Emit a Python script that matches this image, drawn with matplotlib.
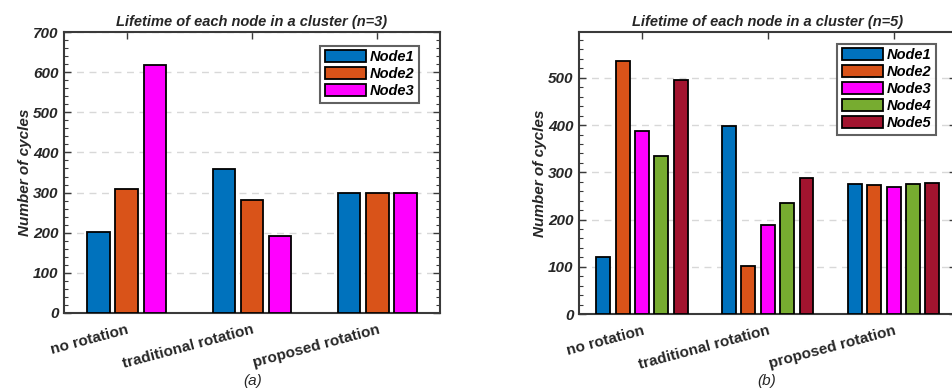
import matplotlib
matplotlib.use("Agg")
import matplotlib.pyplot as plt
import numpy as np
from matplotlib.ticker import MultipleLocator

plt.rcParams['font.family'] = ['Liberation Sans', 'DejaVu Sans']

categories = ["no rotation", "traditional rotation", "proposed rotation"]

nodes3 = ["Node1", "Node2", "Node3"]
n3_node1 = [202, 359, 298]
n3_node2 = [308, 282, 298]
n3_node3 = [618, 193, 298]

nodes5 = ["Node1", "Node2", "Node3", "Node4", "Node5"]
n5_node1 = [120, 398, 275]
n5_node2 = [536, 102, 274]
n5_node3 = [388, 189, 268]
n5_node4 = [335, 236, 275]
n5_node5 = [495, 287, 277]

colors = ["#0072BD", "#D95319", "#FF00FF", "#77AC30", "#A2142F"]
txt = "#262626"
axc = "#3a3a3a"

W, H = 953, 390
fig = plt.figure(figsize=(W / 100, H / 100), dpi=100)

def box(l, t, r, b):
    return [l / W, 1 - b / H, (r - l) / W, (b - t) / H]

def draw(ax, series, names, step, width, ylim, yticks, title, leg_anchor):
    x = np.arange(1, len(categories) + 1)
    n = len(series)
    for i, (vals, name) in enumerate(zip(series, names)):
        off = (i - (n - 1) / 2) * step
        ax.bar(x + off, vals, width, color=colors[i], edgecolor="black",
               linewidth=1.3, label=name, zorder=3)
    ax.set_xlim(0.5, 3.5)
    ax.set_ylim(*ylim)
    ax.set_yticks(yticks)
    ax.yaxis.set_minor_locator(MultipleLocator(20))
    ax.set_xticks(x)
    ax.set_xticklabels(categories, rotation=15, ha="right", fontsize=11,
                       fontweight="bold", color=txt, rotation_mode="anchor")
    for lab in ax.get_yticklabels():
        lab.set_fontweight("bold")
        lab.set_fontstyle("italic")
        lab.set_fontsize(11)
        lab.set_color(txt)
    ax.tick_params(axis="both", which="both", direction="in", top=True,
                   right=True, color=axc)
    ax.tick_params(axis="y", which="major", length=5, width=1, pad=4)
    ax.tick_params(axis="y", which="minor", length=3, width=0.8)
    ax.tick_params(axis="x", which="major", length=5, width=1, pad=7)
    ax.tick_params(axis="x", which="minor", top=False, bottom=False)
    for s in ax.spines.values():
        s.set_color(axc)
        s.set_linewidth(1.5)
    ax.yaxis.grid(True, linestyle=(0, (5, 4)), color="#d8d8d8", linewidth=1, zorder=0)
    ax.set_axisbelow(True)
    ax.set_title(title, fontsize=10.5, fontweight="bold", fontstyle="italic",
                 color=txt, pad=4)
    ax.set_ylabel("Number of cycles", fontsize=11, fontweight="bold",
                  fontstyle="italic", color=txt, labelpad=1)
    leg = ax.legend(loc="upper right", bbox_to_anchor=leg_anchor,
                    prop={"weight": "bold", "style": "italic", "size": 10.5},
                    frameon=True, fancybox=False, edgecolor=axc,
                    handlelength=2.8, handleheight=0.9, handletextpad=0.3,
                    labelspacing=0.2, borderpad=0.3, borderaxespad=0.0)
    leg.get_frame().set_linewidth(1.5)
    for t in leg.get_texts():
        t.set_color("black")
    return ax

ax1 = fig.add_axes(box(64, 32, 440, 313))
draw(ax1, [n3_node1, n3_node2, n3_node3], nodes3, 0.225, 0.18,
     (0, 700), np.arange(0, 701, 100),
     "Lifetime of each node in a cluster (n=3)",
     ((419 - 64) / 376, (313 - 46) / 281))

ax2 = fig.add_axes(box(579, 32, 956.5, 314))
draw(ax2, [n5_node1, n5_node2, n5_node3, n5_node4, n5_node5], nodes5, 0.154, 0.111,
     (0, 597), np.arange(0, 501, 100),
     "Lifetime of each node in a cluster (n=5)",
     ((936 - 579) / 377.5, (314 - 44) / 282))

fig.text(253 / W, 1 - 381 / H, "(a)", ha="center", va="center", fontsize=11,
         fontstyle="italic", color=txt)
fig.text(767 / W, 1 - 381 / H, "(b)", ha="center", va="center", fontsize=11,
         fontstyle="italic", color=txt)

fig.savefig("out.png", dpi=100, facecolor="white")
